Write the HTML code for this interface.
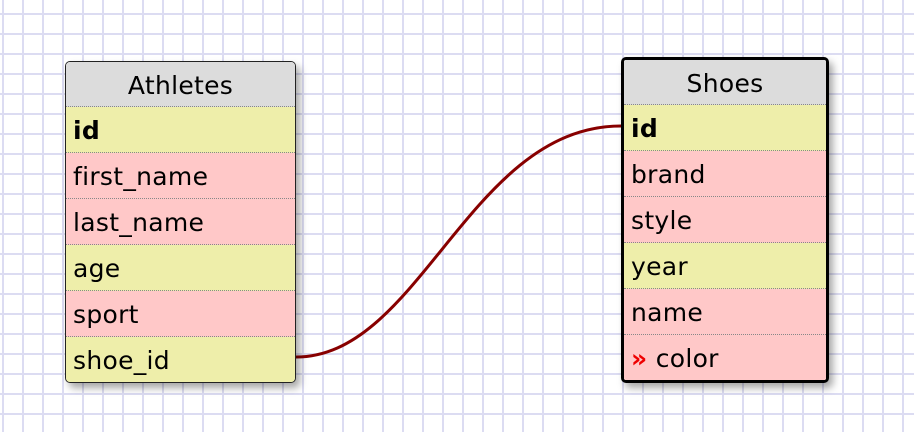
<!DOCTYPE html>
<html><head><style>
body{margin:0;width:914px;height:432px;overflow:hidden;background-color:#fff;
background-image:linear-gradient(to right,#dcdcf2 2px,transparent 2px),linear-gradient(to bottom,#dcdcf2 2px,transparent 2px);
background-size:20px 20px;background-position:2px 13px;font-family:"DejaVu Sans","Liberation Sans",sans-serif;position:relative}
.t{position:absolute;background:#fff;border:1.5px solid #222;border-radius:5px;overflow:hidden;box-shadow:4px 5px 8px rgba(0,0,0,.35)}
.h{background:#dcdcdc;text-align:center;font-size:25px;letter-spacing:0.3px;line-height:48px;height:44px;border-bottom:1px dotted #888}
.r{height:45px;line-height:48px;font-size:25px;letter-spacing:0.3px;padding-left:7px;border-bottom:1px dotted #888;box-sizing:content-box}
.y{background:#eeeeaa}.p{background:#ffc8c8}
.r:last-child{border-bottom:none}
</style></head><body>
<svg style="position:absolute;left:0;top:0" width="914" height="432"><path d="M296 357 C 420 357, 470 126, 621 126" stroke="#880000" stroke-width="3" fill="none"/></svg>
<div class="t" style="left:65px;top:61px;width:229px">
<div class="h">Athletes</div>
<div class="r y"><b>id</b></div>
<div class="r p">first_name</div>
<div class="r p">last_name</div>
<div class="r y">age</div>
<div class="r p">sport</div>
<div class="r y">shoe_id</div>
</div>
<div class="t" style="left:621px;top:57px;width:202px;border:3px solid #000">
<div class="h">Shoes</div>
<div class="r y"><b>id</b></div>
<div class="r p">brand</div>
<div class="r p">style</div>
<div class="r y">year</div>
<div class="r p">name</div>
<div class="r p"><span style="color:#e00;font-weight:bold">»</span> color</div>
</div>
</body></html>
